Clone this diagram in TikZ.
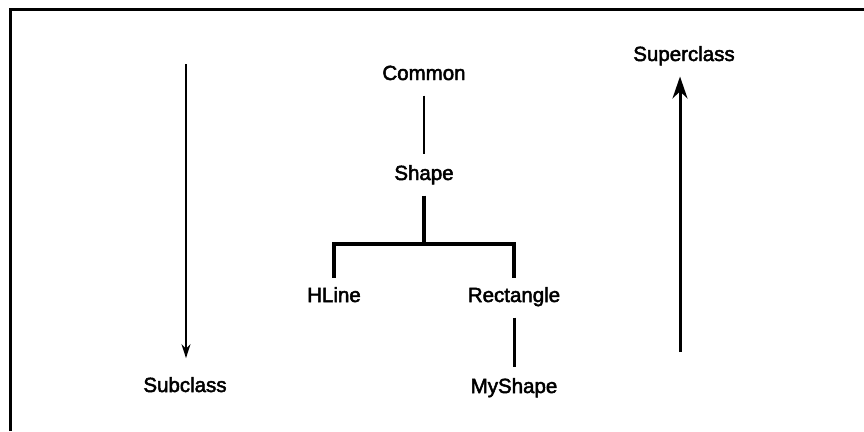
\documentclass[tikz,border=0pt]{standalone}
\usepackage{fontspec}
\setmainfont{Liberation Sans}[BoldFont=Liberation Sans, BoldFeatures={FakeBold=2.4}]
\usetikzlibrary{arrows.meta}

\begin{document}
\begin{tikzpicture}[
    x=1pt, y=-1pt,
    font=\fontsize{20.5}{24}\selectfont\bfseries,
    cls/.style={
        anchor=base,
        text height=14.7pt,
        text depth=4.3pt,
        inner xsep=4pt,
        inner ysep=11pt
    },
    link/.style={
        draw=black,
        line width=2pt
    },
    branch/.style={
        draw=black,
        line width=3.6pt
    },
    arrow/.style={
        -{Stealth[length=14pt,width=9pt]},
        draw=black,
        line width=1.8pt
    },
    bigarrow/.style={
        -{Stealth[length=22pt,width=15pt]},
        draw=black,
        line width=3pt
    }
]
\useasboundingbox (0,0) rectangle (864,431);

% frame
\draw[line width=3pt] (10,431) |- (864,9.5);

% class tree
\node[cls] (common) at (424,80) {Common};
\node[cls] (shape) at (424,180) {Shape};
\node[cls] (hline) at (334,302) {HLine};
\node[cls] (rect) at (514,302) {Rectangle};
\node[cls] (myshape) at (514,393) {MyShape};

\coordinate (fork) at (424,244);

\draw[link] (common) -- (shape);
\draw[branch] (shape) -- (fork);
\draw[branch, line cap=rect] (hline.north) |- (fork) -| (rect.north);
\draw[branch, line width=3pt] (rect) -- (myshape);

% direction arrows
\node[cls] (sub) at (185,392) {Subclass};
\node[cls] (super) at (684,61) {Superclass};

\coordinate (subtop) at (186,64);
\coordinate (superfoot) at (680,352);

\draw[arrow, shorten >=8pt] (subtop) -- (subtop |- sub.north);
\draw[bigarrow] (superfoot) -- (superfoot |- super.south);

\end{tikzpicture}
\end{document}
